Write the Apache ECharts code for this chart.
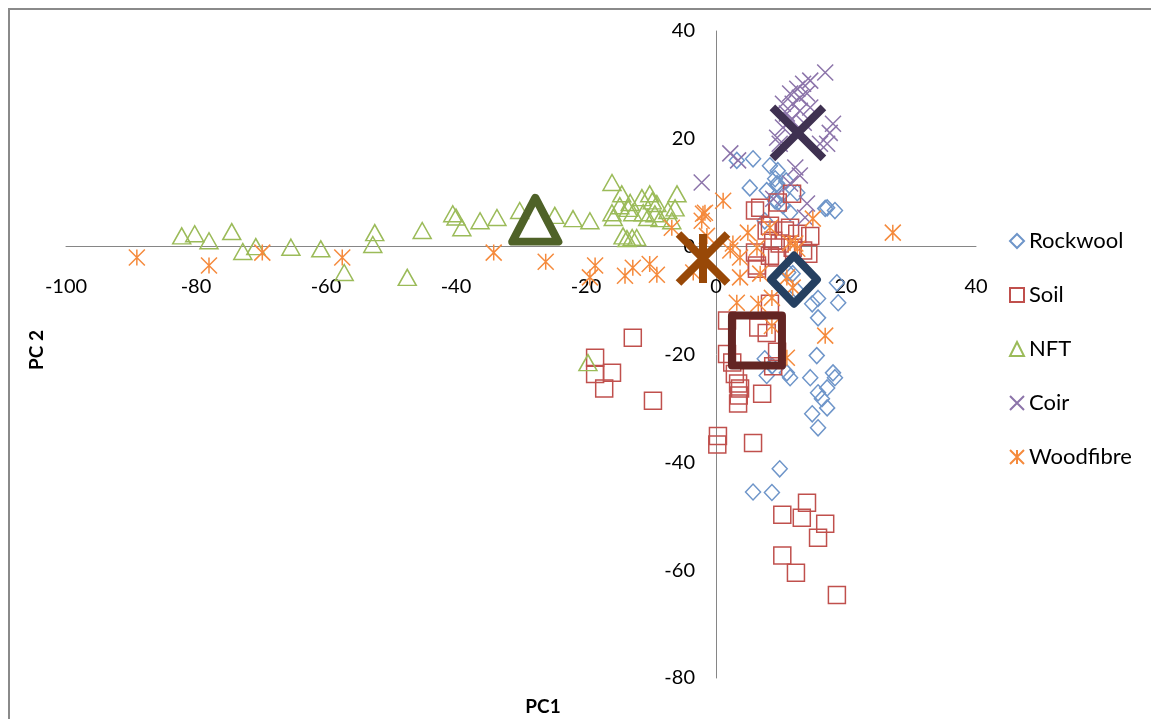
<!DOCTYPE html>
<html>
<head>
<meta charset="utf-8">
<title>PC1 vs PC 2</title>
<script src="https://cdn.jsdelivr.net/npm/echarts@6/dist/echarts.min.js"></script>
<style>
  html, body { margin: 0; padding: 0; background: #fff; }
  #chart { width: 1151px; height: 719px; }
</style>
</head>
<body>
<div id="chart"></div>
<script>
// Principal component scores [PC1, PC2] per growing substrate
const rockwoolPts = [
  [3.2,16.0],[5.7,16.3],[8.3,15.0],[9.5,14.1],[5.2,10.9],[7.8,10.4],[9.1,12.6],[9.5,11.3],
  [10.2,9.8],[12.5,10.0],[9.1,8.5],[9.5,8.2],[17.1,7.2],[18.3,6.7],[16.8,7.1],[7.5,4.8],
  [10.3,7.6],[11.4,6.3],[9.4,11.7],[10.8,12.2],
  [11.8,-5.0],[11.1,-4.8],[12.5,-8.2],[18.6,-6.7],[15.7,-9.6],[18.8,-10.4],[14.8,-10.6],
  [15.7,-13.2],[15.5,-20.2],[14.5,-24.3],[18.0,-23.4],[18.3,-24.3],[17.1,-26.2],[15.7,-27.1],
  [16.3,-28.2],[17.1,-29.9],[14.8,-31.0],[15.7,-33.6],[7.5,-20.8],[8.6,-22.1],[10.9,-23.4],
  [7.8,-23.9],[11.4,-24.3],[9.8,-41.2],[5.7,-45.5],[8.6,-45.6]
];
const soilPts = [
  [6.0,6.7],[6.8,7.2],[9.5,8.2],[11.7,9.8],[8.3,3.9],[7.8,3.0],[10.6,3.0],[12.5,2.4],
  [14.5,2.0],[11.4,3.5],[8.8,1.1],[9.8,0.6],[11.8,-0.2],[13.4,-0.7],[6.0,-1.1],[8.3,-1.7],
  [14.2,-1.3],[6.3,-3.5],[9.4,-2.0],[6.3,-4.1],
  [1.7,-13.7],[8.3,-10.6],[6.5,-15.0],[7.8,-16.0],[9.4,-19.5],[1.7,-19.9],[2.5,-21.5],
  [8.8,-22.2],[2.9,-23.6],[3.4,-25.4],[3.7,-26.3],[3.4,-29.1],[7.1,-27.3],[3.5,-27.6],
  [-12.8,-16.9],[-18.6,-20.6],[-18.6,-23.6],[-16.0,-23.4],[-17.2,-26.3],[-9.7,-28.6],
  [0.3,-35.1],[0.2,-36.7],[5.7,-36.4],[10.2,-49.7],[14.0,-47.5],[13.2,-50.3],[16.8,-51.4],
  [15.7,-54.0],[10.2,-57.3],[12.3,-60.5],[18.6,-64.6]
];
const nftPts = [
  [-82.2,2.0],[-80.2,2.4],[-78.0,1.1],[-74.5,2.8],[-72.8,-0.9],[-70.8,0.0],[-65.4,-0.1],
  [-60.8,-0.4],[-57.2,-4.8],[-52.5,2.6],[-52.8,0.4],[-47.5,-5.7],[-45.2,3.0],[-40.5,6.1],
  [-40.0,5.5],[-39.1,3.5],[-36.3,4.8],[-33.7,5.4],[-30.2,6.7],[-24.8,5.8],[-22.0,5.2],
  [-19.4,4.8],[-16.0,11.9],[-14.5,9.8],[-16.0,6.3],[-14.8,7.6],[-13.5,7.1],[-12.8,6.3],
  [-13.2,8.2],[-11.4,9.1],[-10.2,9.8],[-9.8,8.5],[-9.1,8.0],[-10.5,5.4],[-8.6,5.2],
  [-7.4,6.7],[-6.0,9.8],[-6.3,7.2],[-6.8,4.8],[-14.3,2.0],[-13.7,1.5],[-12.9,1.7],
  [-12.2,1.7],[-15.8,5.4],[-11.2,6.3],[-9.4,6.1],[-19.7,-21.5]
];
const coirPts = [
  [16.8,32.3],[12.5,29.3],[13.4,30.2],[14.5,30.8],[11.4,28.4],[12.9,27.6],[14.0,28.4],
  [10.3,26.5],[11.8,26.5],[14.5,25.8],[10.9,24.7],[12.9,25.2],[10.3,22.1],[9.4,20.2],
  [9.8,19.1],[18.0,22.8],[17.5,21.1],[17.1,19.1],[16.0,19.1],[2.2,17.3],[3.4,16.0],
  [12.2,14.7],[12.9,13.2],[11.4,11.7],[-2.2,11.9],[8.8,8.9],[14.0,8.0],[12.9,21.5],
  [13.7,5.4],[11.6,23.5],[13.5,23.0]
];
const woodfibrePts = [
  [-89.1,-2.0],[-78.0,-3.5],[-69.8,-1.1],[-57.5,-2.0],[-34.2,-1.1],[-26.2,-2.8],
  [-18.6,-3.5],[-19.4,-5.7],[-14.0,-5.4],[-12.8,-3.9],[-10.2,-3.2],[-9.1,-5.2],
  [-6.8,3.5],[-2.2,4.8],[-2.0,6.1],[1.1,8.5],[-1.4,2.0],[-1.7,6.3],[4.9,2.6],[6.3,-0.2],
  [8.3,3.5],[11.4,0.7],[12.2,0.6],[14.9,5.2],[12.5,-0.4],[3.7,-2.0],[2.6,0.6],[2.2,-0.7],
  [3.7,-5.7],[6.8,-5.0],[3.2,-10.4],[6.5,-10.6],[8.6,-9.5],[10.9,-5.7],[11.8,-7.6],
  [8.6,-14.7],[16.8,-16.5],[10.9,-20.6],[-3.5,-4.8],[27.2,2.6]
];

// Group means (centroids)
const rockwoolMean = [[12.0,-6.1]];
const soilMean = [[6.3,-17.4]];
const nftMean = [[-27.8,5.0]];
const coirMean = [[12.6,21.1]];
const woodfibreMean = [[-2.0,-2.2]];

const groupNames = ['Rockwool', 'Soil', 'NFT', 'Coir', 'Woodfibre'];

// Axis ranges
const xMin = -100, xMax = 40, xStep = 20;
const yMin = -80, yMax = 40, yStep = 20;

const W = 1151, H = 719;
const G = { left: 66, right: 175, top: 31, bottom: 41 };
const plotW = W - G.left - G.right;
const plotH = H - G.top - G.bottom;
// Shift the axes so they cross at the origin (labels travel with them)
const xAxisOffset = -plotH * (0 - yMin) / (yMax - yMin);
const yAxisOffset = -plotW * (0 - xMin) / (xMax - xMin);

const FONT = 'Lato, "Open Sans", sans-serif';
const crossPath = 'path://M0,0L10,10M10,0L0,10';
const starPath = 'path://M0,0L10,10M10,0L0,10M5,0L5,10';

function points(name, data, symbol, size, color) {
  return {
    name: name, type: 'scatter', data: data, symbol: symbol, symbolSize: size,
    itemStyle: { color: 'rgba(0,0,0,0)', borderColor: color, borderWidth: 1.5, opacity: 1 },
    emphasis: { disabled: true }, z: 2
  };
}
function mean(name, data, symbol, size, color) {
  return {
    name: name + ' mean', type: 'scatter', data: data, symbol: symbol, symbolSize: size,
    itemStyle: { color: 'rgba(0,0,0,0)', borderColor: color, borderWidth: 8, borderJoin: 'round', opacity: 1 },
    emphasis: { disabled: true }, z: 5
  };
}

const chart = echarts.init(document.getElementById('chart'), null, { renderer: 'canvas' });
chart.setOption({
  animation: false,
  backgroundColor: '#ffffff',
  grid: { left: G.left, right: G.right, top: G.top, bottom: G.bottom, containLabel: false },
  xAxis: {
    type: 'value', min: xMin, max: xMax, interval: xStep,
    position: 'bottom', offset: xAxisOffset,
    axisLine: { onZero: false, lineStyle: { color: '#868686', width: 1 } },
    axisTick: { show: false },
    splitLine: { show: false },
    axisLabel: { margin: 30, color: '#000', fontFamily: FONT, fontSize: 20, showMinLabel: true, showMaxLabel: true }
  },
  yAxis: {
    type: 'value', min: yMin, max: yMax, interval: yStep,
    position: 'left', offset: yAxisOffset,
    axisLine: { onZero: false, lineStyle: { color: '#868686', width: 1 } },
    axisTick: { show: false },
    splitLine: { show: false },
    axisLabel: { margin: 21, color: '#000', fontFamily: FONT, fontSize: 20, showMinLabel: true, showMaxLabel: true }
  },
  legend: {
    data: groupNames, orient: 'vertical', left: 1004, top: 225,
    itemWidth: 14, itemHeight: 14, itemGap: 32,
    textStyle: { color: '#000', fontFamily: FONT, fontSize: 22, lineHeight: 22 }
  },
  graphic: [
    { type: 'rect', silent: true, z: -1, shape: { x: 9, y: 9, width: 1160, height: 730 },
      style: { fill: 'none', stroke: '#8a8a8a', lineWidth: 2 } },
    { type: 'text', silent: true, x: 543, y: 707,
      style: { text: 'PC1', font: 'bold 19px ' + FONT, fill: '#000', align: 'center', verticalAlign: 'middle' } },
    { type: 'text', silent: true, x: 37, y: 350, rotation: Math.PI / 2,
      style: { text: 'PC 2', font: 'bold 19px ' + FONT, fill: '#000', align: 'center', verticalAlign: 'middle' } }
  ],
  series: [
    points('Rockwool', rockwoolPts, 'diamond', [15, 16], '#6E95C9'),
    points('Soil', soilPts, 'rect', 17, '#C0504D'),
    points('NFT', nftPts, 'triangle', [18, 16], '#9BBB59'),
    points('Coir', coirPts, crossPath, 16, '#8C74AA'),
    points('Woodfibre', woodfibrePts, starPath, 16, '#F58A3C'),
    mean('Rockwool', rockwoolMean, 'diamond', [46, 48], '#254061'),
    mean('Soil', soilMean, 'rect', 50, '#632523'),
    mean('NFT', nftMean, 'triangle', [46, 44], '#4F6228'),
    mean('Coir', coirMean, crossPath, 51, '#3F3151'),
    mean('Woodfibre', woodfibreMean, starPath, 49, '#984807')
  ]
});
</script>
</body>
</html>
